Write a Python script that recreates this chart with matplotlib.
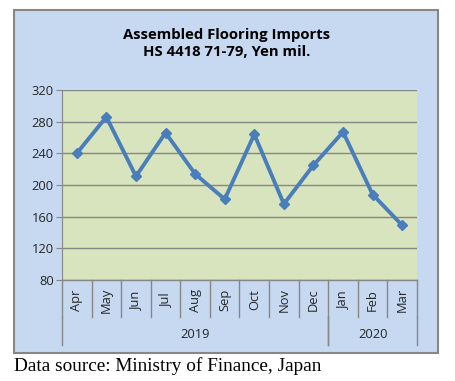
import numpy as np
import matplotlib
matplotlib.use("Agg")
import matplotlib.pyplot as plt
from matplotlib.patches import Rectangle
import matplotlib.transforms as mtransforms

# === Data ===
months = ["Apr", "May", "Jun", "Jul", "Aug", "Sep", "Oct", "Nov", "Dec",
          "Jan", "Feb", "Mar"]
years = ["2019", "2020"]
year_counts = [9, 3]
imports = [240, 286, 211, 266, 214, 182, 264, 176, 225, 267, 188, 149]
y_ticks = [80, 120, 160, 200, 240, 280, 320]

BG_BLUE = "#C6D9F1"
PLOT_GREEN = "#D7E4BD"
LINE_BLUE = "#4A7EBB"
GRID = "#878787"
SANS = ["Open Sans", "DejaVu Sans"]

W, H = 456, 381
fig = plt.figure(figsize=(W / 100, H / 100), dpi=100, facecolor="white")

# chart frame
fig.patches.append(Rectangle((14 / W, 1 - 353 / H), 424 / W, 343 / H,
                             transform=fig.transFigure, facecolor=BG_BLUE,
                             edgecolor=GRID, linewidth=1.5, zorder=-5))

x0, x1, ytop, ybot = 62, 417, 90, 280
ax = fig.add_axes([x0 / W, 1 - ybot / H, (x1 - x0) / W, (ybot - ytop) / H])
ax.set_zorder(2)
ax.set_facecolor(PLOT_GREEN)

x = np.arange(len(months))
ax.plot(x, imports, color=LINE_BLUE, linewidth=2.8, marker="D",
        markersize=5, zorder=3)

ax.set_xlim(-0.5, len(months) - 0.5)
ax.set_ylim(80, 320)
ax.set_yticks(y_ticks)
ax.set_yticklabels([str(t) for t in y_ticks], fontsize=9.3, family=SANS,
                   color="#262626")
ax.tick_params(axis="y", length=4, color=GRID, pad=2)
ax.set_xticks([])
ax.grid(axis="y", color=GRID, linewidth=1)
ax.set_axisbelow(True)
for s in ["top", "right", "bottom"]:
    ax.spines[s].set_visible(False)
ax.spines["left"].set_color(GRID)
ax.axhline(80, color=GRID, linewidth=1, clip_on=False)

# category axis (months + years)
ah = ybot - ytop
trans = mtransforms.blended_transform_factory(ax.transData, ax.transAxes)
row1, row2 = -37 / ah, -65 / ah
for i in range(len(months) + 1):
    ax.plot([i - 0.5, i - 0.5], [0, row1], transform=trans, color=GRID,
            linewidth=1, clip_on=False)
for i, m in enumerate(months):
    ax.text(i, -20 / ah, m, transform=trans, rotation=90, ha="center",
            va="center", fontsize=9.3, family=SANS, color="#262626")
start = 0
for yr, n in zip(years, year_counts):
    for b in (start - 0.5, start + n - 0.5):
        ax.plot([b, b], [row1, row2], transform=trans, color=GRID,
                linewidth=1, clip_on=False)
    ax.text(start + (n - 1) / 2, -55 / ah, yr, transform=trans, ha="center",
            va="center", fontsize=9.3, family=SANS, color="#262626")
    start += n

fig.text(227 / W, 1 - 35 / H, "Assembled Flooring Imports", ha="center",
         va="center", fontsize=10.7, fontweight="bold", family=SANS)
fig.text(227 / W, 1 - 52 / H, "HS 4418 71-79, Yen mil.", ha="center",
         va="center", fontsize=10.7, fontweight="bold", family=SANS)

fig.text(14 / W, 1 - 366 / H, "Data source: Ministry of Finance, Japan",
         ha="left", va="center", fontsize=13.9,
         family=["Liberation Serif", "DejaVu Serif"])

fig.savefig("out.png", dpi=100)
